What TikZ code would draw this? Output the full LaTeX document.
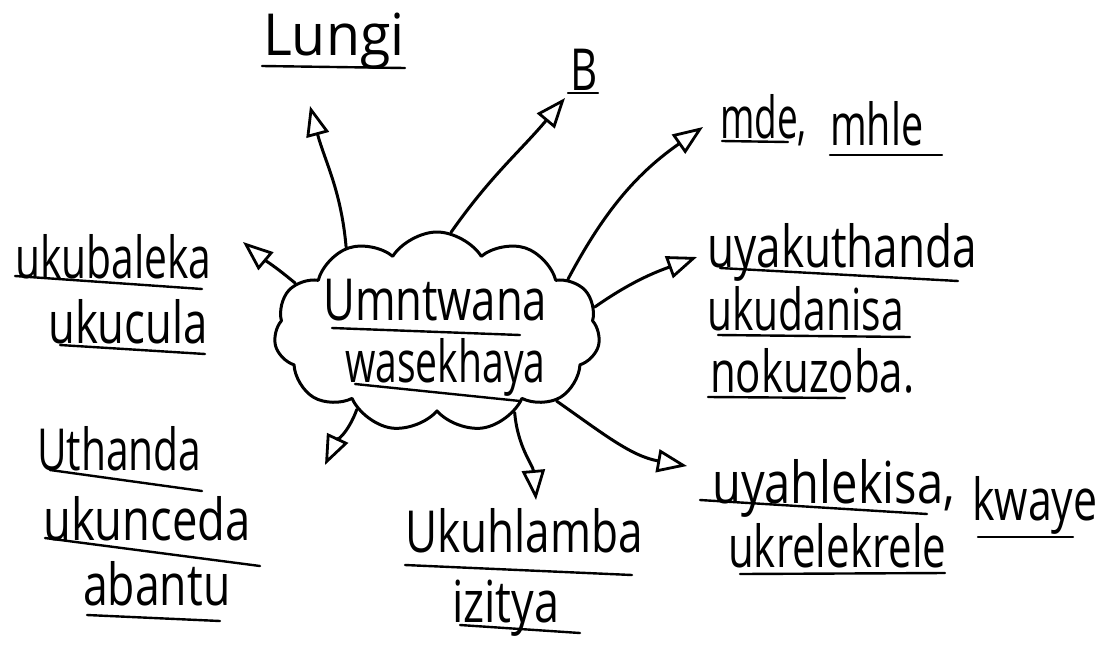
\documentclass[tikz,border=0pt]{standalone}
\usepackage{fontspec}
\setmainfont{Open Sans}
\usetikzlibrary{shapes.symbols,arrows.meta}
\newcommand{\hw}[2][1]{\scalebox{#1}[1.38]{#2}}
\begin{document}
\begin{tikzpicture}[x=1pt,y=-1pt,
  ink/.style={line width=3pt, line cap=round, line join=round},
  lbl/.style={anchor=base west, inner sep=0pt, font=\fontsize{42}{48}\selectfont},
  ul/.style={line width=2.4pt, line cap=round},
  arr/.style={ink, -{Triangle[open,length=30pt,width=23pt,line width=2.8pt]}}]
\useasboundingbox (0,0) rectangle (1103,646);
\fill[white] (0,0) rectangle (1103,646);

% central cloud
\node[cloud, draw, ink, cloud puffs=11, cloud puff arc=115, aspect=1.7,
      minimum width=326pt, minimum height=200pt, inner sep=0pt] (cloud) at (437,332) {};
\node[lbl] (umntwana) at (323,320) {\hw[1.04]{Umntwana}};
\node[lbl] (wasekhaya) at (345,382) {\hw[0.93]{wasekhaya}};
\draw[ul] (332,328) -- (520,335);
\draw[ul] (355,384) -- (520,401);

% top left
\node[lbl] (lungi) at (263,55) {\hw[1.32]{Lungi}};
\draw[ul] (262,66) -- (405,68);
% top
\node[lbl] (b) at (570,90) {\hw{B}};
\draw[ul] (568,93) -- (598,93);
% top right
\node[lbl] (mde) at (720,138) {\hw[0.88]{mde,}};
\node[lbl] (mhle) at (830,145) {\hw[0.94]{mhle}};
\draw[ul] (722,141) -- (788,142);
\draw[ul] (830,155) -- (942,155);
% left
\node[lbl] (ukubaleka) at (15,278) {\hw[0.97]{ukubaleka}};
\node[lbl] (ukucula) at (48,343) {\hw[1.04]{ukucula}};
\draw[ul] (15,276) -- (202,289);
\draw[ul] (60,345) -- (205,354);
% bottom left
\node[lbl] (uthanda) at (37,470) {\hw[0.97]{Uthanda}};
\node[lbl] (ukunceda) at (43,540) {\hw[1.08]{ukunceda}};
\node[lbl] (abantu) at (83,605) {\hw[1.06]{abantu}};
\draw[ul] (50,470) -- (202,491);
\draw[ul] (45,538) -- (260,566);
\draw[ul] (87,615) -- (220,621);
% right
\node[lbl] (uyakuthanda) at (707,267) {\hw[1.05]{uyakuthanda}};
\node[lbl] (ukudanisa) at (707,330) {\hw[0.97]{ukudanisa}};
\node[lbl] (nokuzoba) at (710,392) {\hw{nokuzoba.}};
\draw[ul] (720,268) -- (958,281);
\draw[ul] (718,335) -- (910,337);
\draw[ul] (708,397) -- (845,398);
% bottom right
\node[lbl] (uyahlekisa) at (712,503) {\hw[1.12]{uyahlekisa,}};
\node[lbl] (kwaye) at (972,520) {\hw[1.02]{kwaye}};
\node[lbl] (ukrelekrele) at (728,567) {\hw{ukrelekrele}};
\draw[ul] (700,500) -- (927,514);
\draw[ul] (978,537) -- (1073,537);
\draw[ul] (740,574) -- (945,573);
% bottom
\node[lbl] (ukuhlamba) at (405,552) {\hw[1.05]{Ukuhlamba}};
\node[lbl] (izitya) at (452,622) {\hw[1.07]{izitya}};
\draw[ul] (405,565) -- (632,575);
\draw[ul] (460,625) -- (580,633);

% arrow ends
\coordinate (eLungi) at (310,106);
\coordinate (eB) at (565,98);
\coordinate (eMde) at (703,127);
\coordinate (eUkubaleka) at (243,242);
\coordinate (eUyaku) at (697,257);
\coordinate (eBL) at (325,465);
\coordinate (eUkuhl) at (536,500);
\coordinate (eUyahl) at (687,466);

\draw[arr] (cloud.137) to[out=95,in=-75] (eLungi);
\draw[arr] (cloud.82) to[out=55,in=-130] (eB);
\draw[arr] (cloud.22) to[out=62,in=-145] (eMde);
\draw[arr] (cloud.161) to[out=140,in=-40] (eUkubaleka);
\draw[arr] (cloud.9) to[out=35,in=-160] (eUyaku);
\draw[arr] (cloud.224) to[out=-110,in=65] (eBL);
\draw[arr] (cloud.314) to[out=-85,in=95] (eUkuhl);
\draw[arr] (cloud.330) to[out=-35,in=170] (eUyahl);
\end{tikzpicture}
\end{document}
